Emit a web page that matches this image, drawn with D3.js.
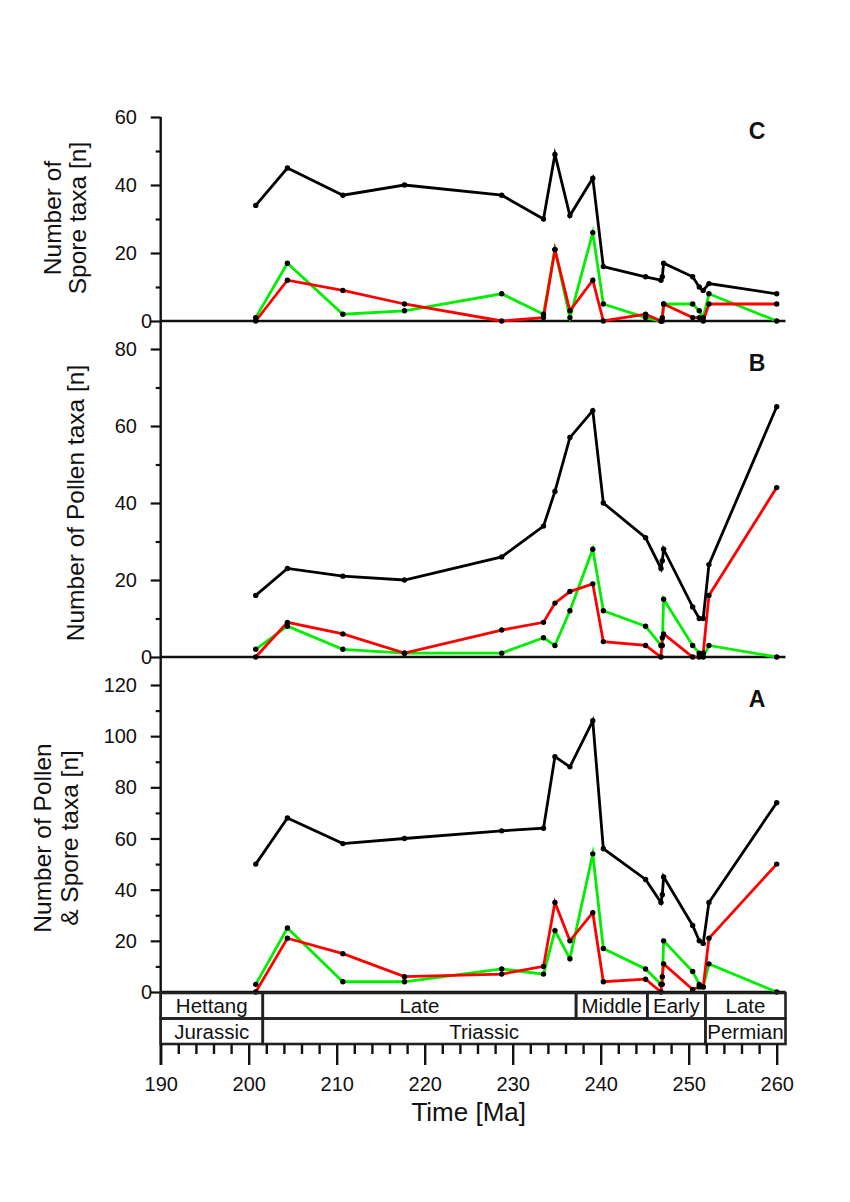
<!DOCTYPE html>
<html><head><meta charset="utf-8">
<script src="https://cdn.jsdelivr.net/npm/d3@7"></script>
<style>
body{margin:0;background:#fff}
svg{display:block}
text{font-family:"Liberation Sans",Arial,sans-serif;fill:#111}
</style>
</head><body>
<svg id="chart" width="850" height="1202"></svg>
<script>
// ---- data (ages in Ma) ----
const ages = [200.8, 204.4, 210.7, 217.7, 228.75, 233.5, 234.8, 236.5, 239.1, 240.3, 245.1, 246.85, 247.0, 247.15, 250.45, 251.2, 251.65, 252.3, 260];

// Panel C: spores
const sporeTotal = [34, 45, 37, 40, 37, 30, 49, 31, 42, 16, 13, 12, 13, 17, 13, 10, 9, 11, 8];
const sporeGreen = [1, 17, 2, 3, 8, 2, 21, 1, 26, 5, 1, 0, 0, 5, 5, 3, 1, 8, 0];
const sporeRed   = [0, 12, 9, 5, 0, 1, 21, 3, 12, 0, 2, 0, 1, 5, 1, 1, 0, 5, 5];

// Panel B: pollen
const pollenTotal = [16, 23, 21, 20, 26, 34, 43, 57, 64, 40, 31, 23, 25, 28, 13, 10, 10, 24, 65];
const pollenGreen = [2, 8, 2, 1, 1, 5, 3, 12, 28, 12, 8, 3, 3, 15, 3, 1, 0, 3, 0];
const pollenRed   = [0, 9, 6, 1, 7, 9, 14, 17, 19, 4, 3, 0, 5, 6, 0, 0, 1, 16, 44];

// Panel A: pollen & spores
const allTotal = [50, 68, 58, 60, 63, 64, 92, 88, 106, 56, 44, 35, 38, 45, 26, 20, 19, 35, 74];
const allGreen = [3, 25, 4, 4, 9, 7, 24, 13, 54, 17, 9, 3, 3, 20, 8, 3, 2, 11, 0];
const allRed   = [0, 21, 15, 6, 7, 10, 35, 20, 31, 4, 5, 0, 6, 11, 1, 2, 2, 21, 50];

// Timescale
const stageNames  = ["Hettang", "Late", "Middle", "Early", "Late"];
const stageBounds = [190, 201.6, 237.2, 245.3, 251.9, 261];
const periodNames  = ["Jurassic", "Triassic", "Permian"];
const periodBounds = [190, 201.6, 251.9, 261];

const xTicksMajor = [190, 200, 210, 220, 230, 240, 250, 260];

// ---- drawing ----
const svg = d3.select("#chart");
const x = d3.scaleLinear().domain([190, 260]).range([160.7, 776.7]);

const panels = [
  {label:"C", total:sporeTotal, green:sporeGreen, red:sporeRed, max:60, y0:321, y1:117,
   title:["Number of","Spore taxa [n]"], tx:[52,77], ty:218},
  {label:"B", total:pollenTotal, green:pollenGreen, red:pollenRed, max:80, y0:657, y1:349,
   title:["Number of Pollen taxa [n]"], tx:[75], ty:503},
  {label:"A", total:allTotal, green:allGreen, red:allRed, max:120, y0:992, y1:685,
   title:["Number of Pollen","& Spore taxa [n]"], tx:[42,69], ty:838}
];

const axisX = x(190);

svg.append("line").attr("x1",axisX).attr("x2",axisX).attr("y1",117).attr("y2",1065)
  .attr("stroke","#111").attr("stroke-width",2.4);

panels.forEach(p=>{
  const y = d3.scaleLinear().domain([0,p.max]).range([p.y0,p.y1]);
  const g = svg.append("g");
  const major = d3.range(0,p.max+1,20), minor = d3.range(10,p.max,20);
  const ax = d3.axisLeft(y).tickValues(major).tickSize(10).tickPadding(0).tickFormat("");
  const gx = g.append("g").attr("transform",`translate(${axisX},0)`).call(ax);
  gx.select(".domain").remove();
  gx.selectAll("line").attr("stroke","#111").attr("stroke-width",2.2);
  const axm = d3.axisLeft(y).tickValues(minor).tickSize(5).tickFormat("");
  const gm = g.append("g").attr("transform",`translate(${axisX},0)`).call(axm);
  gm.select(".domain").remove();
  gm.selectAll("line").attr("stroke","#111").attr("stroke-width",2.2);
  g.selectAll("text.tl").data(major).join("text")
    .attr("x",d=> d===0 ? 152 : 137)
    .attr("y",d=>y(d)).attr("dy","0.35em")
    .attr("text-anchor","end").attr("font-size",20).text(d=>d);
  g.append("line").attr("x1",axisX).attr("x2",x(261)).attr("y1",y(0)).attr("y2",y(0))
    .attr("stroke","#111").attr("stroke-width",2.6);
  p.title.forEach((t,i)=>{
    g.append("text").attr("transform",`translate(${p.tx[i]},${p.ty}) rotate(-90)`)
      .attr("text-anchor","middle").attr("dy","0.35em").attr("font-size",24.5).text(t);
  });
  g.append("text").attr("x",757).attr("y",p.y1+14).attr("dy","0.35em")
    .attr("text-anchor","middle").attr("font-size",23).attr("font-weight","bold").text(p.label);

  const mk = arr => d3.line().x((d,i)=>x(ages[i])).y(d=>y(d))(arr);
  [[p.total,"#000"],[p.green,"#00ee00"],[p.red,"#ff0000"]].forEach(([arr,c])=>{
    g.append("path").attr("d",mk(arr)).attr("fill","none").attr("stroke",c)
      .attr("stroke-width",2.8).attr("stroke-linejoin","miter").attr("stroke-miterlimit",10);
  });
  [p.total,p.green,p.red].forEach(arr=>{
    g.selectAll(null).data(arr).join("circle")
      .attr("cx",(d,i)=>x(ages[i])).attr("cy",d=>y(d)).attr("r",2.7).attr("fill","#000");
  });
});

// timescale boxes
const rowTop = 993, rowMid = 1018.5, rowBot = 1044;
function boxes(bounds, names, top, bot){
  names.forEach((n,i)=>{
    const x0 = x(bounds[i]), x1 = x(bounds[i+1]);
    svg.append("rect").attr("x",x0).attr("y",top).attr("width",x1-x0).attr("height",bot-top)
      .attr("fill","none").attr("stroke","#222").attr("stroke-width",2.6);
    svg.append("text").attr("x",(x0+x1)/2).attr("y",(top+bot)/2).attr("dy","0.36em")
      .attr("text-anchor","middle").attr("font-size",20.5).attr("fill","#222").text(n);
  });
}
boxes(stageBounds, stageNames, rowTop, rowMid);
boxes(periodBounds, periodNames, rowMid, rowBot);

// x axis ticks
const xg = svg.append("g").attr("transform",`translate(0,${rowBot})`);
const xMaj = d3.axisBottom(x).tickValues(xTicksMajor).tickSize(21).tickPadding(12).tickFormat(d3.format("d"));
const gX = xg.call(xMaj);
gX.select(".domain").remove();
gX.selectAll("line").attr("stroke","#111").attr("stroke-width",2.4);
gX.selectAll("text").attr("font-size",20).attr("font-family","Liberation Sans, Arial, sans-serif").attr("fill","#111");
const xm = svg.append("g").attr("transform",`translate(0,${rowBot})`)
  .call(d3.axisBottom(x).tickValues(d3.range(192,260,2).filter(v=>v%10!==0)).tickSize(10).tickFormat(""));
xm.select(".domain").remove();
xm.selectAll("line").attr("stroke","#111").attr("stroke-width",2.4);

svg.append("text").attr("x",x(225)).attr("y",1121).attr("text-anchor","middle")
  .attr("font-size",26).text("Time [Ma]");
</script>
</body></html>
